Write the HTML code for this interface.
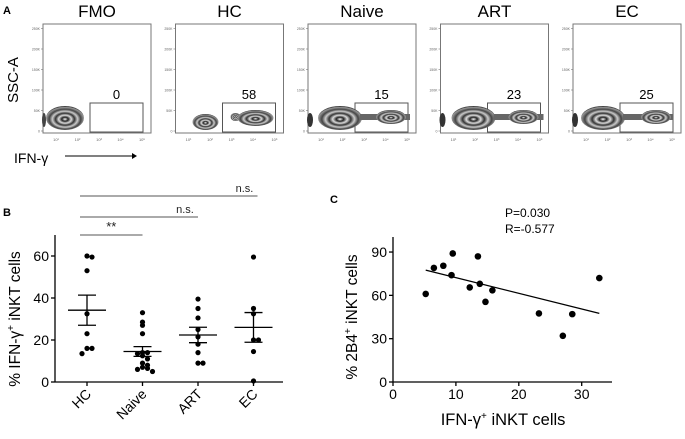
<!DOCTYPE html>
<html><head><meta charset="utf-8"><style>
body{margin:0;background:#fff;width:685px;height:434px;overflow:hidden}
svg{font-family:"Liberation Sans",Arial,sans-serif}
</style></head><body>
<svg id="fig" width="685" height="434" viewBox="0 0 685 434">
<defs>
<radialGradient id="blob" cx="50%" cy="55%" r="55%">
<stop offset="0" stop-color="#fff"/><stop offset="0.15" stop-color="#222"/><stop offset="0.3" stop-color="#ddd"/><stop offset="0.45" stop-color="#333"/><stop offset="0.6" stop-color="#ccc"/><stop offset="0.75" stop-color="#444"/><stop offset="0.9" stop-color="#999"/><stop offset="1" stop-color="#111"/>
</radialGradient>
</defs>
<text x="3" y="14" font-size="11" font-weight="bold">A</text>
<text x="3" y="216" font-size="11" font-weight="bold">B</text>
<text x="330" y="203" font-size="11" font-weight="bold">C</text>
<text transform="translate(18,80) rotate(-90)" text-anchor="middle" font-size="15">SSC-A</text>
<text x="14" y="163" font-size="14">IFN-γ</text>
<line x1="65" y1="156" x2="132" y2="156" stroke="#000" stroke-width="1"/>
<path d="M132,153 L137,156 L132,159 Z" fill="#000"/>
<g id="flow"></g>
<g id="chartB"></g>
<g id="chartC"></g>
</svg>
<script>
const NS="http://www.w3.org/2000/svg";
function el(p,t,a){const e=document.createElementNS(NS,t);for(const k in a)e.setAttribute(k,a[k]);p.appendChild(e);return e;}

// ---- Panel A flow plots ----
const flowTitles=["FMO","HC","Naive","ART","EC"];
const flowValues=["0","58","15","23","25"];
const flow=document.getElementById('flow');
flowTitles.forEach((t,i)=>{
  const x0=43+i*132.5, y0=24, w=108, h=109;
  const g=el(flow,'g',{});
  
  
  const tt=el(g,'text',{x:x0+54,y:17,'text-anchor':'middle','font-size':17});tt.textContent=t;
  
  
  el(g,'rect',{x:x0,y:y0,width:w,height:h,fill:'#fff',stroke:'#777','stroke-width':1});
  ['0','50K','100K','150K','200K','250K'].forEach((l,j)=>{
    const y=y0+h-2-j*20.5;
    el(g,'line',{x1:x0-2,y1:y,x2:x0,y2:y,stroke:'#777','stroke-width':0.6});
    const tx=el(g,'text',{x:x0-3,y:y+1.5,'text-anchor':'end','font-size':3.5,fill:'#666'});tx.textContent=l;
  });
  for(let k=1;k<=5;k++){
    const tx=el(g,'text',{x:x0+13+(k-1)*21.5,y:y0+h+8,'text-anchor':'middle','font-size':4,fill:'#666'});tx.textContent='10'+['¹','²','³','⁴','⁵'][k-1];}
  const gx=x0+47, gw=53;
  const gate=el(g,'rect',{x:gx,y:103,width:gw,height:29,fill:'none',stroke:'#555','stroke-width':1});
  
  
  if(i===0){el(g,'ellipse',{cx:x0+22,cy:118,rx:19,ry:12,fill:'url(#blob)'});el(g,'ellipse',{cx:x0+1,cy:120,rx:2,ry:7,fill:'#444'});}
  if(i===1){el(g,'ellipse',{cx:x0+30,cy:122,rx:13,ry:8,fill:'url(#blob)'});el(g,'ellipse',{cx:x0+60,cy:117,rx:5,ry:4,fill:'url(#blob)'});el(g,'ellipse',{cx:x0+80,cy:118,rx:18,ry:8,fill:'url(#blob)'});}
  if(i>=2){
    const cx=[0,0,x0+32,x0+33,x0+30][i];
    el(g,'ellipse',{cx:cx,cy:118,rx:22,ry:12,fill:'url(#blob)'});
    el(g,'rect',{x:cx+20,y:114,width:50,height:6,fill:'#666'});
    el(g,'ellipse',{cx:x0+83,cy:117,rx:15,ry:7,fill:'url(#blob)'});
    el(g,'ellipse',{cx:x0+2,cy:120,rx:3,ry:7,fill:'#333'});
  }
  const v=el(g,'text',{x:gx+gw/2,y:99,'text-anchor':'middle','font-size':13});v.textContent=flowValues[i];
});

// ---- Panel B ----
const groups=["HC","Naive","ART","EC"];
const hcVals=[60,59.5,53,32.5,23,16,16,13.5];
const naiveVals=[33,28.5,27,23,14,14,13.5,12.5,11,9,8,7,6.5,6,5];
const artVals=[39.5,35,30.5,25,21.5,18,14,9,9];
const ecVals=[59.5,35,32.5,20,20,14.5,0.5];
const groupVals=[hcVals,naiveVals,artVals,ecVals];
const yTicksB=[0,20,40,60];
const sigLabels=["**","n.s.","n.s."];
const B=document.getElementById('chartB');
const bx=i=>87+i*55.5, by=v=>382-v*2.1;
el(B,'line',{x1:55,y1:by(0),x2:283,y2:by(0),stroke:'#000','stroke-width':1.3});
el(B,'line',{x1:55,y1:by(0),x2:55,y2:235,stroke:'#000','stroke-width':1.3});
yTicksB.forEach(t=>{el(B,'line',{x1:51,y1:by(t),x2:55,y2:by(t),stroke:'#000','stroke-width':1.3});
  const tx=el(B,'text',{x:49,y:by(t)+5,'text-anchor':'end','font-size':14});tx.textContent=t;});
const yl=el(B,'text',{transform:'translate(20,'+by(30)+') rotate(-90)','text-anchor':'middle','font-size':15.5});
yl.innerHTML='% IFN-γ<tspan dy="-6" font-size="10">+</tspan><tspan dy="6"> iNKT cells</tspan>';


groups.forEach((gname,i)=>{
  const cx=bx(i);
  el(B,'line',{x1:cx,y1:by(0),x2:cx,y2:by(0)+4,stroke:'#000','stroke-width':1.3});
  const lab=el(B,'text',{transform:'translate('+(cx+5)+','+(by(0)+13)+') rotate(-45)','text-anchor':'end','font-size':14});lab.textContent=gname;
  
  
  const vals=groupVals[i];
  const n=vals.length, mean=vals.reduce((a,b)=>a+b,0)/n;
  const sd=Math.sqrt(vals.reduce((a,b)=>a+(b-mean)**2,0)/(n-1)), sem=sd/Math.sqrt(n);
  const counts={};
  vals.forEach(v=>{const key=Math.round(v/3);counts[key]=(counts[key]||0);const k=counts[key]++;
    const off=k===0?0:(k%2?1:-1)*Math.ceil(k/2)*5;
    const d=el(B,'circle',{cx:cx+off,cy:by(v),r:2.6,fill:'#000'});
    
    });
  el(B,'line',{x1:cx-19,y1:by(mean),x2:cx+19,y2:by(mean),stroke:'#000','stroke-width':1.3});
  el(B,'line',{x1:cx-9,y1:by(mean+sem),x2:cx+9,y2:by(mean+sem),stroke:'#000','stroke-width':1.3});
  el(B,'line',{x1:cx-9,y1:by(mean-sem),x2:cx+9,y2:by(mean-sem),stroke:'#000','stroke-width':1.3});
  el(B,'line',{x1:cx,y1:by(mean+sem),x2:cx,y2:by(mean-sem),stroke:'#000','stroke-width':1.3});
});
const sigY=[235,217,196];
sigLabels.forEach((s,j)=>{
  const x2=bx(j+1)+(j===2?4:0);
  el(B,'line',{x1:80,y1:sigY[j],x2:x2,y2:sigY[j],stroke:'#555','stroke-width':1});
  const t=el(B,'text',{x:j===0?(80+x2)/2:x2-13,y:sigY[j]-4,'text-anchor':'middle','font-size':j===0?13:11,fill:'#222'});t.textContent=s;
  
  
});

// ---- Panel C ----
const cxVals=[5.2,6.5,8,9.5,9.3,12.2,13.5,13.8,14.7,15.8,23.2,27,28.5,32.8];
const cyVals=[61,79,80.5,89,74,65.5,87,68,55.5,63.5,47.5,32,47,72];
const fitX=[5.2,32.8];
const fitY=[77.5,47.5];
const xTicksC=[0,10,20,30];
const yTicksC=[0,30,60,90];
const C=document.getElementById('chartC');
const sx=v=>393+v*6.29, sy=v=>382-v*1.444;
el(C,'line',{x1:393,y1:sy(0),x2:612,y2:sy(0),stroke:'#000','stroke-width':1.3});
el(C,'line',{x1:393,y1:sy(0),x2:393,y2:237,stroke:'#000','stroke-width':1.3});
xTicksC.forEach(t=>{el(C,'line',{x1:sx(t),y1:sy(0),x2:sx(t),y2:sy(0)+4,stroke:'#000','stroke-width':1.3});
  const tx=el(C,'text',{x:sx(t),y:sy(0)+17,'text-anchor':'middle','font-size':14});tx.textContent=t;});
yTicksC.forEach(t=>{el(C,'line',{x1:389,y1:sy(t),x2:393,y2:sy(t),stroke:'#000','stroke-width':1.3});
  const tx=el(C,'text',{x:387,y:sy(t)+5,'text-anchor':'end','font-size':14});tx.textContent=t;});
const cyl=el(C,'text',{transform:'translate(357,'+sy(45)+') rotate(-90)','text-anchor':'middle','font-size':15.5});
cyl.innerHTML='% 2B4<tspan dy="-6" font-size="10">+</tspan><tspan dy="6"> iNKT cells</tspan>';


const cxl=el(C,'text',{x:sx(17.5),y:425,'text-anchor':'middle','font-size':16.5});
cxl.innerHTML='IFN-γ<tspan dy="-6" font-size="10">+</tspan><tspan dy="6"> iNKT cells</tspan>';


const fl=el(C,'line',{x1:sx(fitX[0]),y1:sy(fitY[0]),x2:sx(fitX[1]),y2:sy(fitY[1]),stroke:'#000','stroke-width':1.3});


cxVals.forEach((v,i)=>{const d=el(C,'circle',{cx:sx(v),cy:sy(cyVals[i]),r:3.3,fill:'#000'});
  
  });
const p=el(C,'text',{x:505,y:217,'font-size':12});p.textContent='P=0.030';
const r=el(C,'text',{x:505,y:233,'font-size':12});r.textContent='R=-0.577';
</script>
</body></html>
